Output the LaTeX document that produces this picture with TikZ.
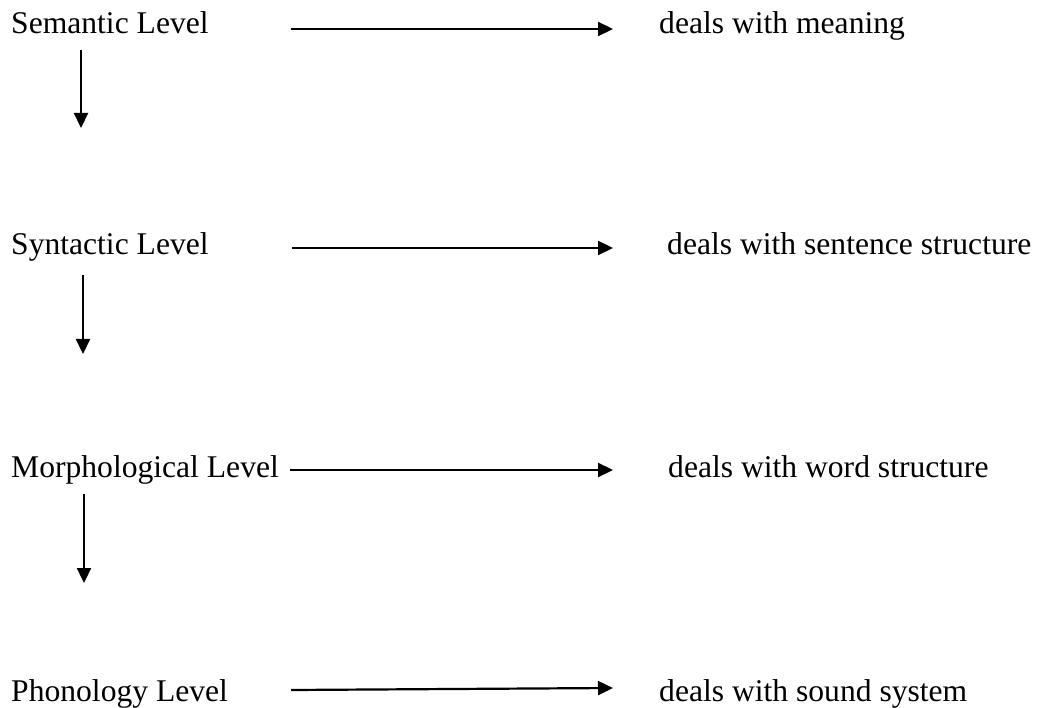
\documentclass[tikz,border=0pt]{standalone}
\usepackage{fontspec}
\setmainfont{Liberation Serif}
\usetikzlibrary{arrows.meta}
\begin{document}
\begin{tikzpicture}[x=1pt,y=1pt,
  lbl/.style={anchor=base west,inner sep=0pt,font=\fontsize{31.6}{36}\selectfont},
  arr/.style={line width=2.2pt,-{Triangle[length=15pt,width=14pt]}}]
\useasboundingbox (0,0) rectangle (1041,-708);
% left labels
\node[lbl] (sem) at (11,-34) {Semantic Level};
\node[lbl] (syn) at (11,-255) {Syntactic Level};
\node[lbl] (mor) at (11,-477) {Morphological Level};
\node[lbl] (pho) at (11,-701) {Phonology Level};
% right labels
\node[lbl] (semd) at (659,-34) {deals with meaning};
\node[lbl] (synd) at (667,-255) {deals with sentence structure};
\node[lbl] (mord) at (668,-477) {deals with word structure};
\node[lbl] (phod) at (659,-701) {deals with sound system};
% arrow end points
\coordinate (h1s) at (291,-29);  \coordinate (h1e) at (613,-29);
\coordinate (h2s) at (292,-248); \coordinate (h2e) at (613,-248);
\coordinate (h3s) at (290,-470); \coordinate (h3e) at (613,-470);
\coordinate (h4s) at (291,-690); \coordinate (h4e) at (613,-688);
\coordinate (v1s) at (81,-50);  \coordinate (v1e) at (81,-128);
\coordinate (v2s) at (83,-275); \coordinate (v2e) at (83,-354);
\coordinate (v3s) at (84,-494); \coordinate (v3e) at (84,-583);
% horizontal arrows
\draw[arr] (h1s) -- (h1e);
\draw[arr] (h2s) -- (h2e);
\draw[arr] (h3s) -- (h3e);
\draw[arr] (h4s) -- (h4e);
% vertical arrows
\draw[arr] (v1s) -- (v1e);
\draw[arr] (v2s) -- (v2e);
\draw[arr] (v3s) -- (v3e);
\end{tikzpicture}
\end{document}
